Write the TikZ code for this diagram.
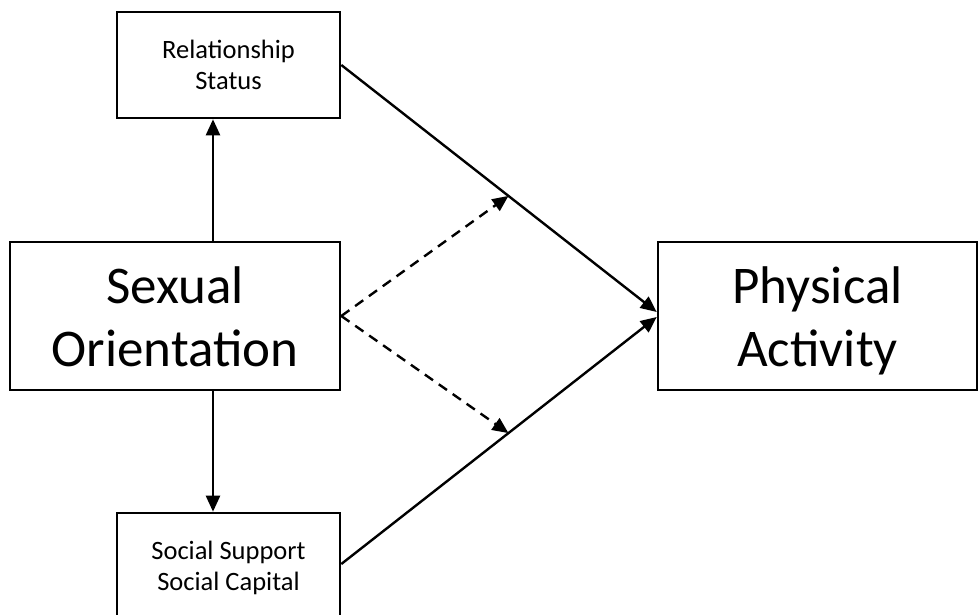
\documentclass[tikz,border=0pt]{standalone}
\usepackage{fontspec}
\setmainfont{Carlito}
\usetikzlibrary{arrows.meta,calc}
\newcommand{\lowtext}[2]{\raisebox{#1}[\height][\depth]{\begin{tabular}{@{}c@{}}#2\end{tabular}}}
\begin{document}
\begin{tikzpicture}[x=1pt,y=-1pt,
  box/.style={draw,line width=2.6pt,inner sep=0pt,align=center},
  bigbox/.style={box,font=\fontsize{53}{63}\selectfont},
  smallbox/.style={box,font=\fontsize{26.5}{31.5}\selectfont},
  arr/.style={line width=2.4pt,-{Triangle[length=16pt,width=14pt]}},
  darr/.style={arr,dash pattern=on 10pt off 7pt}]
\useasboundingbox (0,0) rectangle (979,615);
\node[smallbox,minimum width=223pt,minimum height=106pt] (Rel) at (228.5,65) {Relationship\\Status};
\node[bigbox,minimum width=330pt,minimum height=148pt] (SO) at (175,316) {\lowtext{-6pt}{Sexual\\Orientation}};
\node[smallbox,minimum width=223pt,minimum height=110pt] (Soc) at (228.5,568) {Social Support\\Social Capital};
\node[bigbox,minimum width=319pt,minimum height=148pt] (PA) at (817.5,316) {\lowtext{-6pt}{Physical\\Activity}};
\draw[arr] ([xshift=38pt]SO.north) -- ([xshift=38pt]SO.north |- Rel.south);
\draw[arr] ([xshift=38pt]SO.south) -- ([xshift=38pt]SO.south |- Soc.north);
\draw[arr] (Rel.east) -- ([yshift=4pt]PA.west);
\draw[arr] ([yshift=4pt]Soc.east) -- ([yshift=-1pt]PA.west);
\path (Rel.east) -- ([yshift=4pt]PA.west) coordinate[pos=0.53] (m1);
\path ([yshift=4pt]Soc.east) -- ([yshift=-1pt]PA.west) coordinate[pos=0.53] (m2);
\draw[darr] (SO.east) -- (m1);
\draw[darr] (SO.east) -- (m2);
\end{tikzpicture}
\end{document}
